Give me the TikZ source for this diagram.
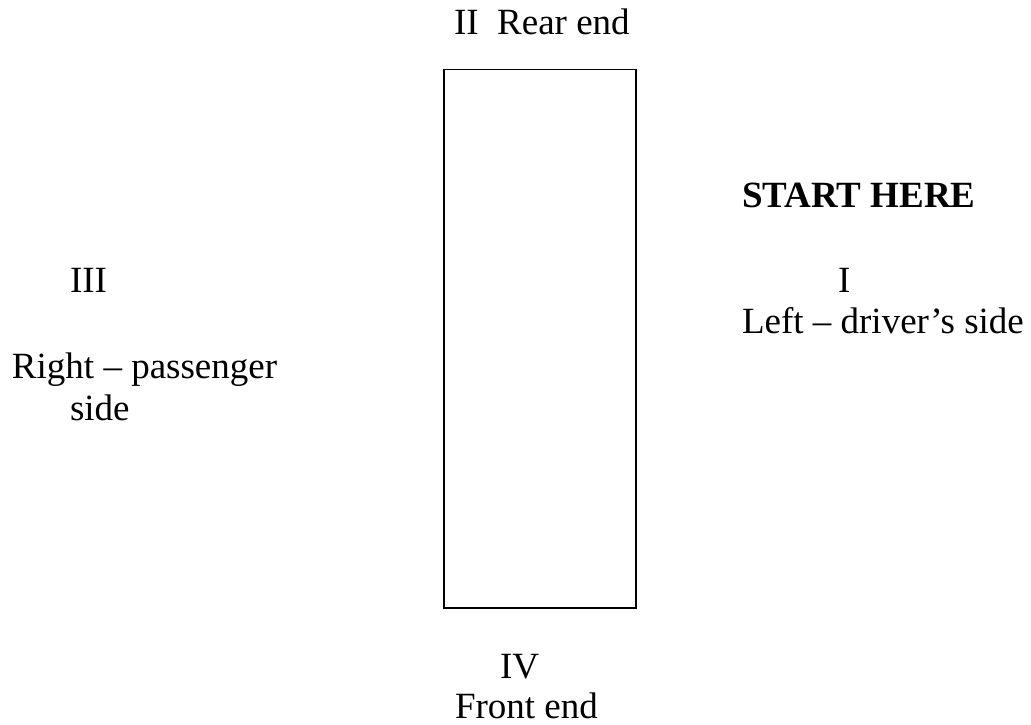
\documentclass[tikz,border=0pt]{standalone}
\usepackage{fontspec}
\setmainfont{Liberation Serif}
\begin{document}
\begin{tikzpicture}[x=1pt,y=-1pt,
  lbl/.style={anchor=base west,inner sep=0pt,outer sep=0pt,font=\fontsize{37}{44}\selectfont},
  boldlbl/.style={lbl,font=\fontsize{37}{44}\selectfont\bfseries},
  carbox/.style={draw=black,line width=1.5pt,anchor=north west,inner sep=0pt,minimum width=192pt,minimum height=538pt}]
\useasboundingbox (0,0) rectangle (1031,725);
\node[carbox] (car) at (443,69) {};
\node[lbl] (rear) at (454,35) {II\hspace{0.5em}Rear end};
\node[boldlbl] (start) at (742,207) {START HERE};
\node[lbl] (one) at (838,292) {I};
\node[lbl] (left) at (742,333) {Left – driver’s side};
\node[lbl] (three) at (70,292) {III};
\node[lbl] (right) at (12,378) {Right – passenger};
\node[lbl] (side) at (70,420) {side};
\node[lbl] (four) at (500,678) {IV};
\node[lbl] (front) at (455,718) {Front end};
\end{tikzpicture}
\end{document}
